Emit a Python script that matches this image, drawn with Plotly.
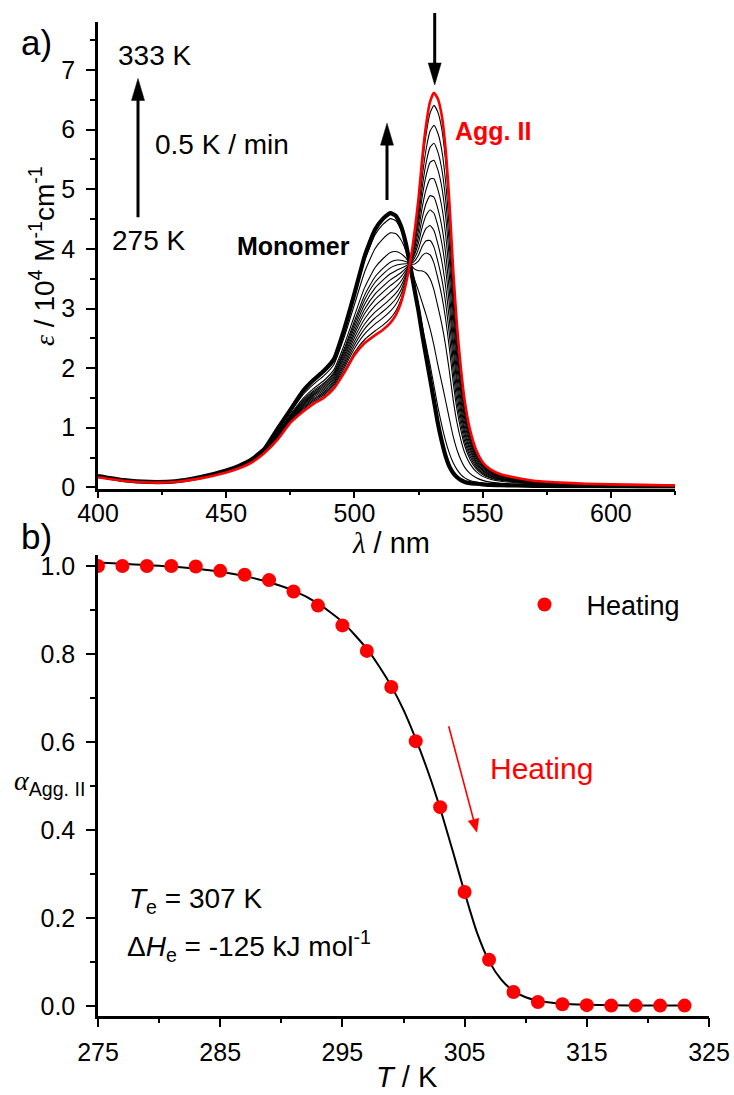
import math
import plotly.graph_objects as go

# ---------------- data ----------------
# panel a: molar absorptivity (1e4 M-1 cm-1) vs wavelength (nm)
WAVELENGTH = [400, 410, 420, 430, 440, 450, 455, 460, 465, 470,
              475, 480, 484, 488, 492, 496, 500, 504, 508, 511,
              514, 516, 518, 520, 522, 523.5, 525, 526.5, 528, 529.5, 531,
              532.5, 534, 535.5, 537, 538.5, 540, 541.5, 543, 545, 547.5, 550,
              553, 557, 563, 570, 580, 590, 600, 612, 625]
EPS_AGG_II_275K = [0.17, 0.11, 0.08, 0.09, 0.15, 0.25, 0.32, 0.42, 0.58, 0.80,
                   1.08, 1.27, 1.40, 1.50, 1.66, 1.92, 2.22, 2.42, 2.55, 2.64,
                   2.76, 2.88, 3.08, 3.40, 3.85, 4.30, 4.85, 5.55, 6.10, 6.47, 6.62,
                   6.52, 6.25, 5.70, 4.80, 3.65, 2.70, 2.00, 1.45, 0.98, 0.62, 0.42,
                   0.30, 0.22, 0.16, 0.11, 0.08, 0.06, 0.05, 0.04, 0.03]
EPS_MONOMER_333K = [0.19, 0.12, 0.09, 0.10, 0.17, 0.28, 0.36, 0.47, 0.65, 0.98,
                    1.30, 1.62, 1.80, 1.95, 2.15, 2.65, 3.25, 3.88, 4.32, 4.50,
                    4.60, 4.56, 4.40, 4.10, 3.66, 3.30, 2.95, 2.55, 2.18, 1.82, 1.45,
                    1.08, 0.78, 0.53, 0.35, 0.24, 0.17, 0.12, 0.09, 0.07, 0.06, 0.05,
                    0.04, 0.035, 0.03, 0.025, 0.02, 0.02, 0.015, 0.012, 0.01]
# aggregate share of each intermediate spectrum (read from the peak heights at 531 nm)
AGG_SHARE_INTERMEDIATE = [0.959, 0.894, 0.836, 0.781, 0.721, 0.661, 0.609,
                          0.553, 0.499, 0.447, 0.36, 0.18, 0.05]

# panel b: degree of aggregation vs temperature
T_HEATING = [275, 277, 279, 281, 283, 285, 287, 289, 291, 293, 295, 297, 299,
             301, 303, 305, 307, 309, 311, 313, 315, 317, 319, 321, 323]
ALPHA_HEATING = [1.000, 1.000, 1.000, 1.000, 0.999, 0.989, 0.980, 0.968, 0.942,
                 0.910, 0.865, 0.807, 0.725, 0.602, 0.452, 0.259, 0.105, 0.032,
                 0.009, 0.004, 0.002, 0.001, 0.001, 0.001, 0.001]
T_FIT = [275, 277, 279, 281, 283, 285, 287, 289, 291, 293, 295, 297, 298, 299,
         300, 301, 302, 303, 304, 305, 306, 307, 308, 309, 310, 311, 312, 313,
         315, 317, 320, 323]
ALPHA_FIT = [1.008, 1.005, 1.002, 0.999, 0.994, 0.987, 0.977, 0.963, 0.944, 0.915,
             0.873, 0.812, 0.772, 0.727, 0.673, 0.607, 0.533, 0.449, 0.355, 0.258,
             0.168, 0.102, 0.060, 0.034, 0.020, 0.012, 0.008, 0.005, 0.003, 0.002,
             0.001, 0.001]

X_TICKS_A = [400, 450, 500, 550, 600]
Y_TICKS_A = [0, 1, 2, 3, 4, 5, 6, 7]
X_TICKS_B = [275, 285, 295, 305, 315, 325]
Y_TICKS_B = [0.0, 0.2, 0.4, 0.6, 0.8, 1.0]

# ---------------- layout constants ----------------
W, H = 734, 1095
SANS = "Liberation Sans, Arial, sans-serif"
SERIF = "Liberation Serif, Times New Roman, serif"


def X(px):
    return px / W


def Y(py):
    return 1 - py / H


XA_RANGE = [400, 625]
YA_RANGE = [-0.02, 7.8]
XA_DOM = [X(98), X(675)]
YA_DOM = [Y(488.5), Y(22.4)]
XB_RANGE = [275, 325]
YB_RANGE = [-0.022, 1.025]
XB_DOM = [X(98), X(709)]
YB_DOM = [Y(1015.7), Y(555)]

fig = go.Figure()

# ---------------- panel a traces ----------------
for share in AGG_SHARE_INTERMEDIATE:
    eps = [share * a + (1 - share) * m for a, m in zip(EPS_AGG_II_275K, EPS_MONOMER_333K)]
    fig.add_trace(go.Scatter(x=WAVELENGTH, y=eps, mode="lines", xaxis="x", yaxis="y",
                             line=dict(color="black", width=1.1, shape="spline", smoothing=0.5),
                             showlegend=False, hoverinfo="skip"))
fig.add_trace(go.Scatter(x=WAVELENGTH, y=EPS_MONOMER_333K, mode="lines", xaxis="x", yaxis="y",
                         line=dict(color="black", width=4.2, shape="spline", smoothing=0.5),
                         showlegend=False, name="333 K"))
fig.add_trace(go.Scatter(x=WAVELENGTH, y=EPS_AGG_II_275K, mode="lines", xaxis="x", yaxis="y",
                         line=dict(color="#ff0000", width=2.6, shape="spline", smoothing=0.5),
                         showlegend=False, name="275 K"))

# ---------------- panel b traces ----------------
fig.add_trace(go.Scatter(x=T_FIT, y=ALPHA_FIT, mode="lines", xaxis="x2", yaxis="y2",
                         line=dict(color="black", width=2, shape="spline", smoothing=0.6),
                         showlegend=False, hoverinfo="skip"))
fig.add_trace(go.Scatter(x=T_HEATING, y=ALPHA_HEATING, mode="markers", xaxis="x2", yaxis="y2",
                         marker=dict(color="#ff0000", size=14, line=dict(width=0)),
                         name="\u00a0Heating", showlegend=True))

# ---------------- axes ----------------
common = dict(showline=True, linecolor="black", linewidth=2.5, ticks="outside",
              ticklen=9, tickwidth=2.2, tickcolor="black", showgrid=False, zeroline=False,
              tickfont=dict(family=SANS, size=25, color="black"), mirror=False,
              automargin=False)

fig.update_layout(
    xaxis=dict(domain=XA_DOM, range=XA_RANGE, anchor="y", tickvals=X_TICKS_A,
               minor=dict(dtick=25, ticklen=4, tickwidth=2, ticks="outside", tickcolor="black"),
               ticklabelstandoff=-6, **{**common, "ticklen": 7}),
    yaxis=dict(domain=YA_DOM, range=YA_RANGE, anchor="x", tickvals=Y_TICKS_A,
               minor=dict(dtick=0.5, ticklen=5, tickwidth=2, ticks="outside", tickcolor="black"),
               ticklabelstandoff=6, **common),
    xaxis2=dict(domain=XB_DOM, range=XB_RANGE, anchor="y2", tickvals=X_TICKS_B,
                minor=dict(dtick=5, ticklen=5, tickwidth=2, ticks="outside", tickcolor="black"),
                ticklabelstandoff=4, **common),
    yaxis2=dict(domain=YB_DOM, range=YB_RANGE, anchor="x2", tickvals=Y_TICKS_B,
                tickformat=".1f",
                minor=dict(dtick=0.1, ticklen=5, tickwidth=2, ticks="outside", tickcolor="black"),
                ticklabelstandoff=6, **common),
)

# ---------------- arrows ----------------
def scale(rng, dom, size):
    return (dom[1] - dom[0]) * size / (rng[1] - rng[0])


SX_A, SY_A = scale(XA_RANGE, XA_DOM, W), scale(YA_RANGE, YA_DOM, H)
SX_B, SY_B = scale(XB_RANGE, XB_DOM, W), scale(YB_RANGE, YB_DOM, H)


def arrow(xref, yref, sx, sy, x0, y0, x1, y1, color, lw, head_len, head_w):
    dx, dy = (x1 - x0) * sx, (y1 - y0) * sy
    L = math.hypot(dx, dy)
    ux, uy = dx / L, dy / L
    bx = x1 - ux * (head_len - 3) / sx
    by = y1 - uy * (head_len - 3) / sy
    fig.add_shape(type="line", xref=xref, yref=yref, x0=x0, y0=y0, x1=bx, y1=by,
                  line=dict(color=color, width=lw))
    px, py = -uy, ux
    cx, cy = -ux * head_len, -uy * head_len
    p1 = (cx + px * head_w / 2, cy + py * head_w / 2)
    p2 = (cx - px * head_w / 2, cy - py * head_w / 2)
    path = f"M0,0 L{p1[0]:.2f},{p1[1]:.2f} L{p2[0]:.2f},{p2[1]:.2f} Z"
    fig.add_shape(type="path", xref=xref, yref=yref, xsizemode="pixel", ysizemode="pixel",
                  xanchor=x1, yanchor=y1, path=path, fillcolor=color,
                  line=dict(color=color, width=0.5))


arrow("x", "y", SX_A, SY_A, 415.6, 4.53, 415.6, 6.86, "black", 3, 22, 13)
arrow("x", "y", SX_A, SY_A, 512.7, 4.82, 512.7, 6.11, "black", 3, 22, 13)
arrow("paper", "paper", W, H, X(434.7), Y(13), X(434.7), Y(85), "black", 3, 22, 13)
arrow("x2", "y2", SX_B, SY_B, 303.7, 0.636, 306.0, 0.395, "#ff0000", 1.6, 13, 11)

# ---------------- text ----------------
def note(px, py, text, size, color="black", xanchor="center", angle=0, family=SANS):
    fig.add_annotation(xref="paper", yref="paper", x=X(px), y=Y(py), text=text,
                       showarrow=False, xanchor=xanchor, yanchor="middle", textangle=angle,
                       font=dict(family=family, size=size, color=color))


note(36, 43, "a)", 35)
note(36, 536, "b)", 35)
note(154, 56, "333 K", 28)
note(222, 145, "0.5 K / min", 28)
note(148, 240, "275 K", 28)
note(293, 246, "<b>Monomer</b>", 25)
note(493, 131, "<b>Agg. II</b>", 25, color="#ff0000")
note(391, 543, f"<span style='font-family:{SERIF}'><i>λ</i></span> / nm", 29)
note(42, 256, f"<span style='font-family:{SERIF}'><i>ε</i></span> / 10<sup>4</sup> M<sup>-1</sup>cm<sup>-1</sup>",
     28, angle=-90)
note(541, 768, "Heating", 30, color="#ff0000")
note(127, 900, "<i>T</i><sub>e</sub> = 307 K", 28, xanchor="left")
note(125, 946, "Δ<i>H</i><sub>e</sub> = -125 kJ mol<sup>-1</sup>", 28, xanchor="left")
note(12, 782, f"<span style='font-family:{SERIF}'><i>α</i></span><sub>Agg. II</sub>", 28, xanchor="left")
note(407, 1077, "<i>T</i> / K", 29)

fig.update_layout(
    width=W, height=H, margin=dict(l=0, r=0, t=0, b=0),
    paper_bgcolor="white", plot_bgcolor="white",
    font=dict(family=SANS, color="black"),
    showlegend=True,
    legend=dict(x=X(510), y=Y(605), xanchor="left", yanchor="middle",
                bgcolor="rgba(0,0,0,0)", borderwidth=0, itemwidth=59,
                font=dict(family=SANS, size=27, color="black")),
)

fig.write_html("out.html")
